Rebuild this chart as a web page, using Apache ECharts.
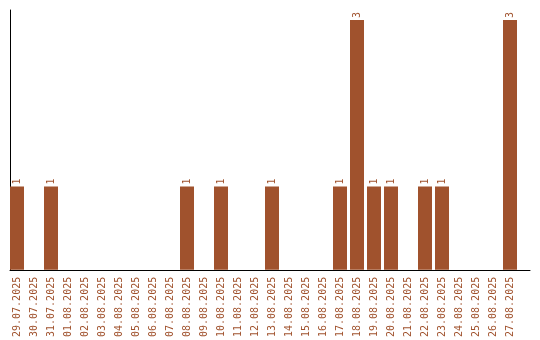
<!DOCTYPE html>
<html><head><meta charset="utf-8">
<script src="https://cdn.jsdelivr.net/npm/echarts@6/dist/echarts.min.js"></script>
<style>html,body{margin:0;padding:0;background:#fff}#c{width:540px;height:340px}</style>
</head><body><div id="c"></div>
<script>
const dates = ["29.07.2025","30.07.2025","31.07.2025","01.08.2025","02.08.2025","03.08.2025","04.08.2025","05.08.2025","06.08.2025","07.08.2025","08.08.2025","09.08.2025","10.08.2025","11.08.2025","12.08.2025","13.08.2025","14.08.2025","15.08.2025","16.08.2025","17.08.2025","18.08.2025","19.08.2025","20.08.2025","21.08.2025","22.08.2025","23.08.2025","24.08.2025","25.08.2025","26.08.2025","27.08.2025"];
const counts = [1,0,1,0,0,0,0,0,0,0,1,0,1,0,0,1,0,0,0,1,3,1,1,0,1,1,0,0,0,3];
const color = '#a0522d';
const idx = dates.map((d,i)=>i);
const chart = echarts.init(document.getElementById('c'), null, {renderer:'canvas'});
chart.setOption({
  animation:false,
  grid:{left:10, top:10, width:520, height:260},
  xAxis:{
    type:'value', min:-7/17, max:513/17,
    axisLine:{show:true, onZero:false, lineStyle:{color:'#000', width:1}},
    axisTick:{show:false}, splitLine:{show:false},
    axisLabel:{customValues:idx, rotate:90, margin:7, color:color,
      fontFamily:'DejaVu Sans Mono', fontSize:10,
      formatter:v=>dates[Math.round(v)]}
  },
  yAxis:{
    type:'value', min:0, max:3.12,
    axisLine:{show:true, onZero:false, lineStyle:{color:'#000', width:1}},
    axisTick:{show:false}, axisLabel:{show:false}, splitLine:{show:false}
  },
  series:[{
    type:'bar', barWidth:14,
    itemStyle:{color:color},
    data: counts.map((v,i)=>[i,v]),
    label:{show:true, position:'top', rotate:90, align:'left', verticalAlign:'middle', distance:2,
      color:color, fontFamily:'DejaVu Sans Mono', fontSize:10,
      formatter:p=>p.value[1]?String(p.value[1]):''}
  }]
});
</script></body></html>
